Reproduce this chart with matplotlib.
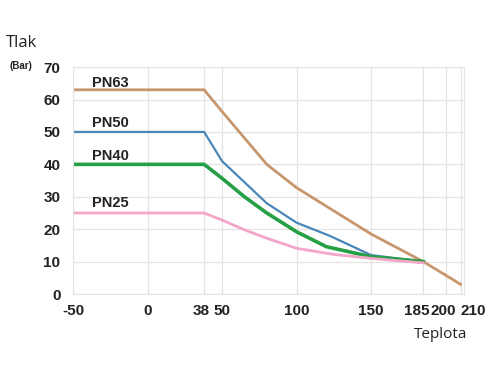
import matplotlib
matplotlib.use("Agg")
import matplotlib.pyplot as plt
from matplotlib.transforms import ScaledTranslation

# temperature ticks and pressure ratings
x_ticks = [-50, 0, 38, 50, 100, 150, 185, 200, 210]
y_ticks = [0, 10, 20, 30, 40, 50, 60, 70]

pn63_t = [-50, 38, 50, 80, 100, 150, 185, 210]
pn63_p = [63, 63, 56.3, 40, 32.8, 18.5, 10, 3]

pn50_t = [-50, 38, 50, 80, 100, 122, 150, 185]
pn50_p = [50, 50, 41, 28, 22, 18, 12, 10]

pn40_t = [-50, 38, 50, 65, 80, 100, 120, 150, 185]
pn40_p = [40, 40, 35.7, 30, 25, 19.2, 14.6, 11.5, 10]

pn25_t = [-50, 38, 50, 65, 80, 100, 125, 150, 185]
pn25_p = [25, 25, 22.8, 19.8, 17.2, 14.1, 12.2, 11, 9.6]

series = [
    ("PN63", pn63_t, pn63_p, "#c8966c", 2.0, (-37, 64)),
    ("PN50", pn50_t, pn50_p, "#4a86b8", 1.6, (-37, 51.5)),
    ("PN40", pn40_t, pn40_p, "#26a045", 2.6, (-37, 41.2)),
    ("PN25", pn25_t, pn25_p, "#f4a6c8", 2.0, (-37, 26.7)),
]

plt.rcParams['font.family'] = ['Liberation Sans', 'DejaVu Sans']

fig = plt.figure(figsize=(5, 3.75), dpi=100)
ax = fig.add_axes([0.146, 0.216, 0.781, 0.605])

for name, t, p, color, lw, (lx, ly) in series:
    ax.plot(t, p, color=color, lw=lw, solid_joinstyle="round")
    ax.text(lx, ly, name, fontsize=10.5, fontweight="bold", color="#222222",
            va="baseline")

ax.set_xlim(-50, 212)
ax.set_ylim(0, 70)
ax.set_xticks(x_ticks)
ax.set_yticks(y_ticks)
ax.set_xticklabels([str(v) for v in x_ticks], fontsize=11, fontweight="bold")
ax.set_yticklabels([str(v) for v in y_ticks], fontsize=11, fontweight="bold")
ax.tick_params(axis="y", length=0, pad=9, colors="#222222")
ax.tick_params(axis="x", length=0, pad=7, colors="#222222")
ax.grid(True, color="#e3e3e3", lw=0.9)
ax.set_axisbelow(True)
for s in ax.spines.values():
    s.set_color("#e3e3e3")

# crowded labels at the right end are nudged apart like in the original
shifts = {"38": -2, "185": -5, "200": -2, "210": 9}
for lab in ax.get_xticklabels():
    dx = shifts.get(lab.get_text(), 0)
    if dx:
        lab.set_transform(lab.get_transform() + ScaledTranslation(dx / 72, 0, fig.dpi_scale_trans))

fig.text(0.012, 0.875, "Tlak", fontsize=12, color="#222222", family=['Open Sans', 'DejaVu Sans'])
fig.text(0.018, 0.815, "(Bar)", fontsize=7, fontweight="bold", color="#222222")
fig.text(0.828, 0.1, "Teplota", fontsize=11, color="#222222", family=['Open Sans', 'DejaVu Sans'])

fig.savefig("out.png", dpi=100)
